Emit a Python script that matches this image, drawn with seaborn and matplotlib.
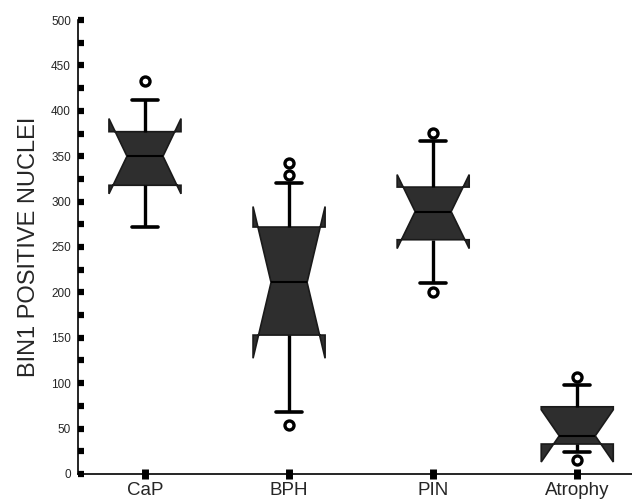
import matplotlib
matplotlib.use("Agg")
import matplotlib.pyplot as plt
import seaborn as sns
import pandas as pd
from matplotlib.ticker import MultipleLocator

# ---- data (five-number summaries + outliers) ----
categories = ["CaP", "BPH", "PIN", "Atrophy"]
cap_vals = [272, 318, 350, 377, 412]
bph_vals = [68, 153, 211, 272, 321]
pin_vals = [210, 258, 289, 316, 367]
atrophy_vals = [24, 33, 42, 74, 98]

outlier_groups = ["CaP", "BPH", "BPH", "BPH", "PIN", "PIN", "Atrophy", "Atrophy"]
outlier_values = [433, 342, 329, 54, 376, 200, 107, 15]

y_ticks = [0, 50, 100, 150, 200, 250, 300, 350, 400, 450, 500]

box_df = pd.DataFrame({
    "group": (["CaP"] * len(cap_vals) + ["BPH"] * len(bph_vals)
              + ["PIN"] * len(pin_vals) + ["Atrophy"] * len(atrophy_vals)),
    "value": cap_vals + bph_vals + pin_vals + atrophy_vals,
})
out_df = pd.DataFrame({"group": outlier_groups, "value": outlier_values})

sns.set_style("ticks")
plt.rcParams["font.family"] = ["Liberation Sans", "DejaVu Sans"]

fig = plt.figure(figsize=(6.32, 5.03), dpi=100)
ax = fig.add_axes([0.1234, 0.0577, 0.8766, 0.9025])

sns.boxplot(
    data=box_df, x="group", y="value", order=categories, ax=ax,
    whis=(0, 100), width=0.5, notch=True, capwidths=0.18,
    color="#2a2a2a", linecolor="black", linewidth=1.2,
    whiskerprops={"linewidth": 2.4, "color": "black"},
    capprops={"linewidth": 2.6, "color": "black"},
    medianprops={"linewidth": 1.5, "color": "black"},
    boxprops={"facecolor": "#2e2e2e", "edgecolor": "#1a1a1a"},
)

sns.stripplot(
    data=out_df, x="group", y="value", order=categories, ax=ax,
    jitter=False, marker="o", size=6.5, color="white",
    edgecolor="black", linewidth=2.4, zorder=5,
)

ax.set_xlim(-0.465, 3.38)
ax.set_ylim(0, 500)
ax.set_yticks(y_ticks)
ax.yaxis.set_minor_locator(MultipleLocator(25))
ax.set_xlabel("")
ax.set_ylabel("BIN1 POSITIVE NUCLEI", fontsize=17, labelpad=8)

for s in ["top", "right"]:
    ax.spines[s].set_visible(False)
for s in ["left", "bottom"]:
    ax.spines[s].set_linewidth(1.2)
    ax.spines[s].set_color("black")

ax.tick_params(axis="y", which="both", direction="in", length=4.5,
               width=4.5, color="black", labelsize=8.5, pad=5)
ax.tick_params(axis="x", direction="inout", length=7, width=5,
               color="black", labelsize=13.5, pad=2)

fig.savefig("out.png", dpi=100)
